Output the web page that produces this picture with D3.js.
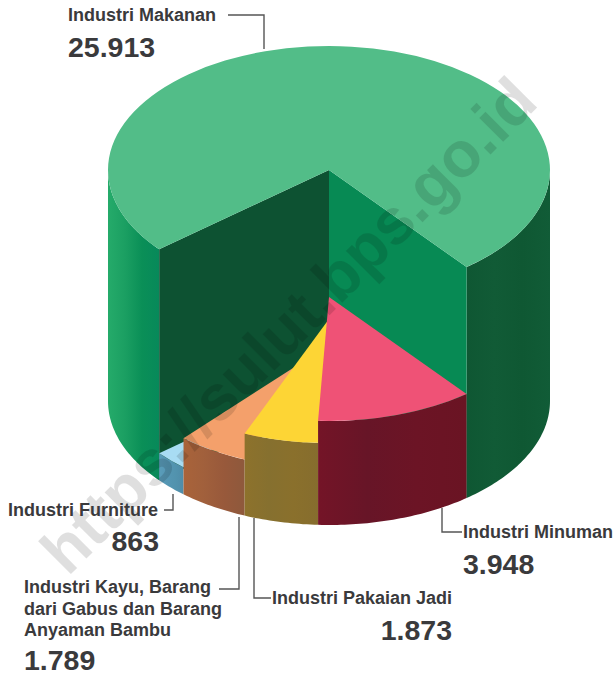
<!DOCTYPE html>
<html>
<head>
<meta charset="utf-8">
<script src="https://cdn.jsdelivr.net/npm/d3@7/dist/d3.min.js"></script>
<style>
html,body{margin:0;padding:0;background:#fff}
svg{display:block}
text{font-family:"Liberation Sans",Arial,sans-serif;font-weight:700;fill:#3a3a3c}
</style>
</head>
<body>
<div id="chart"></div>
<script>
const categories = ["Industri Minuman","Industri Pakaian Jadi","Industri Kayu, Barang dari Gabus dan Barang Anyaman Bambu","Industri Furniture","Industri Makanan"];
const values = [3948,1873,1789,863,25913];
const labelLines = [["Industri Minuman"],["Industri Pakaian Jadi"],["Industri Kayu, Barang","dari Gabus dan Barang","Anyaman Bambu"],["Industri Furniture"],["Industri Makanan"]];
const topColors = ["#ef5276","#fdd535","#f4a06b","#a8dcf3","#52bd88"];
const wallStops = [
  ["#741427","#671527","#6c1425","#6a1423"],
  ["#8d722c","#86702f","#8a702c","#866d2e"],
  ["#a9633a","#a1603c","#98593b","#8e593c"],
  ["#5a9dba","#5596b3","#5293ae","#4f8ca8"],
  ["#25ab6a","#1b9f62","#0a8f57","#07895a"]
];
const greenRightStops = ["#0f5733","#115b36","#0f5833","#115c37"];
const greenInnerDark = "#0d5232", greenInnerLight = "#078a54";
const watermark = "https://sulut.bps.go.id";

const W = 615, H = 676;
const cx = 329, baseY = 401, rx = 221, ry = 124;
const raise = [104,82,56,27,231];
const startDeg = 141.5;
const rad = d => d*Math.PI/180;

const svg = d3.select("#chart").append("svg").attr("width",W).attr("height",H);
const defs = svg.append("defs");
const fmt = d3.formatLocale({decimal:",",thousands:".",grouping:[3],currency:["",""]}).format(",d");

const slices = d3.pie().sort(null).value(d=>d).startAngle(rad(startDeg)).endAngle(rad(startDeg+360))(values);
const arc = d3.arc().innerRadius(0).outerRadius(100);
const line = d3.line();
const pt = (a,cy)=>[cx+rx*Math.sin(a), cy-ry*Math.cos(a)];

function gradient(id,stops){
  const g = defs.append("linearGradient").attr("id",id).attr("x1",0).attr("x2",1).attr("y1",0).attr("y2",0);
  stops.forEach((c,i)=>g.append("stop").attr("offset",i/(stops.length-1)).attr("stop-color",c));
  return `url(#${id})`;
}
function wallPath(a0,a1,cyTop,cyBot){
  const n = Math.max(2,Math.ceil((a1-a0)/rad(1)));
  const as = d3.range(n+1).map(i=>a0+(a1-a0)*i/n);
  return line(as.map(a=>pt(a,cyTop)).concat(as.slice().reverse().map(a=>pt(a,cyBot))))+"Z";
}
function radialWall(a,cyTop,cyBot){
  return line([[cx,cyTop],pt(a,cyTop),pt(a,cyBot),[cx,cyBot]])+"Z";
}
function drawSlice(s,i){
  const topY = baseY-raise[i];
  const g = svg.append("g");
  const big = i===values.length-1;
  if(big){
    g.append("path").attr("d",wallPath(s.startAngle,rad(270),topY,baseY)).attr("fill",gradient("w"+i,wallStops[i]));
    g.append("path").attr("d",wallPath(rad(450),s.endAngle,topY,baseY)).attr("fill",gradient("wr",greenRightStops));
    g.append("path").attr("d",radialWall(s.startAngle,topY,baseY)).attr("fill",greenInnerDark);
    g.append("path").attr("d",radialWall(s.endAngle,topY,baseY)).attr("fill",greenInnerLight);
  } else {
    g.append("path").attr("d",wallPath(s.startAngle,s.endAngle,topY,baseY)).attr("fill",gradient("w"+i,wallStops[i]));
  }
  g.append("path").attr("d",arc(s)).attr("fill",topColors[i])
    .attr("transform",`translate(${cx},${topY}) scale(${rx/100},${ry/100})`);
}
const order = [4,3,2,1,0];
order.forEach(i=>drawSlice(slices[i],i));

/* watermark */
svg.append("text").text(watermark)
  .attr("transform","translate(292,329) rotate(-45)")
  .attr("text-anchor","middle").attr("dominant-baseline","middle")
  .style("font-size","64px").style("fill","#000").style("opacity",0.12);

/* leaders */
const leaders = [
  [[462,532],[442,532],[442,508]],
  [[271,598],[254,598],[254,518]],
  [[219,589],[239,589],[239,517]],
  [[164,510],[173,510],[173,494]],
  [[228,15],[264,15],[264,49]]
];
svg.append("g").selectAll("path").data(leaders).join("path")
  .attr("d",d=>line(d)).attr("fill","none").attr("stroke","#555").attr("stroke-width",1.4);

/* labels */
const labelPos = [
  {x:463,y:538,vx:463,vy:574,anchor:"start"},
  {x:272,y:604,vx:452,vy:640,anchor:"end"},
  {x:24,y:593,vx:24,vy:670,anchor:"start"},
  {x:8,y:516,vx:159,vy:551,anchor:"end"},
  {x:68,y:21,vx:68,vy:57,anchor:"start"}
];
const lineGap = 21.6;
labelPos.forEach((p,i)=>{
  labelLines[i].forEach((t,j)=>{
    svg.append("text").text(t).attr("x",p.x).attr("y",p.y+j*lineGap).style("font-size","18px");
  });
  svg.append("text").text(fmt(values[i])).attr("x",p.vx).attr("y",p.vy)
    .attr("text-anchor",p.anchor).style("font-size","28.5px");
});
</script>
</body>
</html>
